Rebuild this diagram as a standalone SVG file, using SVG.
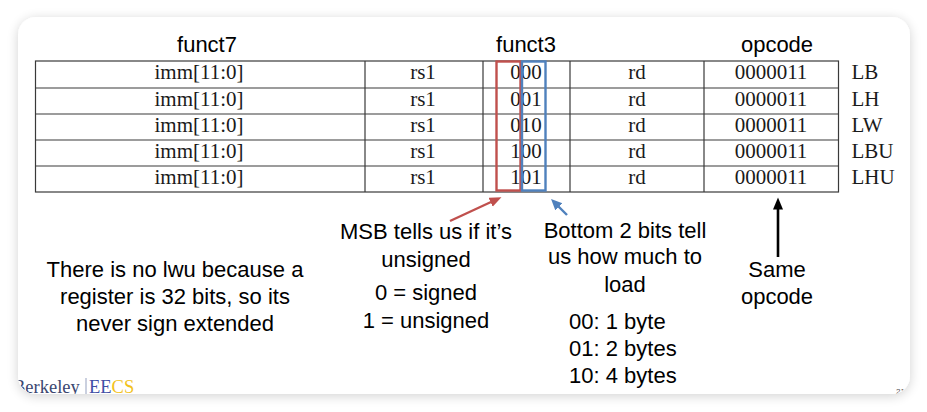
<svg xmlns="http://www.w3.org/2000/svg" width="927" height="412" viewBox="0 0 927 412">
<style>
.sans{font-family:"Liberation Sans",Arial,sans-serif;font-size:22px;fill:#000}
.serif{font-family:"Liberation Serif","Times New Roman",serif;font-size:21px;fill:#1a1a1a}
.mid{text-anchor:middle}
.grid{stroke:#3a3a3a;stroke-width:1.2;fill:none}
</style>
<defs>
<filter id="shadow" x="-5%" y="-8%" width="110%" height="116%">
<feGaussianBlur in="SourceAlpha" stdDeviation="6"/>
<feOffset dx="0" dy="2" result="b"/>
<feComponentTransfer><feFuncA type="linear" slope="0.18"/></feComponentTransfer>
<feMerge><feMergeNode/><feMergeNode in="SourceGraphic"/></feMerge>
</filter>
<clipPath id="cardclip"><rect x="18" y="17" width="892" height="377" rx="18"/></clipPath>
<marker id="headRed" markerUnits="userSpaceOnUse" markerWidth="13" markerHeight="11" refX="0.5" refY="5" orient="auto"><path d="M0,0 L12,5 L0,10 z" fill="#c0504d"/></marker>
<marker id="headBlue" markerUnits="userSpaceOnUse" markerWidth="13" markerHeight="11" refX="0.5" refY="5" orient="auto"><path d="M0,0 L11,5 L0,10 z" fill="#4f81bd"/></marker>
<marker id="headBlack" markerUnits="userSpaceOnUse" markerWidth="13" markerHeight="11" refX="0.5" refY="5" orient="auto"><path d="M0,0 L12,5 L0,10 z" fill="#000"/></marker>
</defs>
<rect width="927" height="412" fill="#ffffff"/>
<g id="card">
<rect x="18" y="17" width="892" height="377" rx="18" fill="#ffffff" filter="url(#shadow)"/>
</g>
<g id="headers">
<text class="sans mid" x="207" y="52">funct7</text>
<text class="sans mid" x="526" y="52">funct3</text>
<text class="sans mid" x="777" y="52">opcode</text>
</g>
<g id="table">
<rect class="grid" x="35.5" y="61" width="803" height="131"/>
<path class="grid" d="M35.5,88H838.5M35.5,114H838.5M35.5,140H838.5M35.5,166H838.5M365,61V192M483,61V192M570,61V192M704,61V192"/>
<g class="serif">
<text class="mid" x="199" y="79">imm[11:0]</text><text class="mid" x="423" y="79">rs1</text><text class="mid" x="526" y="79">000</text><text class="mid" x="637" y="79">rd</text><text class="mid" x="771" y="79">0000011</text><text x="851.5" y="79">LB</text>
<text class="mid" x="199" y="106">imm[11:0]</text><text class="mid" x="423" y="106">rs1</text><text class="mid" x="526" y="106">001</text><text class="mid" x="637" y="106">rd</text><text class="mid" x="771" y="106">0000011</text><text x="851.5" y="106">LH</text>
<text class="mid" x="199" y="132">imm[11:0]</text><text class="mid" x="423" y="132">rs1</text><text class="mid" x="526" y="132">010</text><text class="mid" x="637" y="132">rd</text><text class="mid" x="771" y="132">0000011</text><text x="851.5" y="132">LW</text>
<text class="mid" x="199" y="158">imm[11:0]</text><text class="mid" x="423" y="158">rs1</text><text class="mid" x="526" y="158">100</text><text class="mid" x="637" y="158">rd</text><text class="mid" x="771" y="158">0000011</text><text x="851.5" y="158">LBU</text>
<text class="mid" x="199" y="184">imm[11:0]</text><text class="mid" x="423" y="184">rs1</text><text class="mid" x="526" y="184">101</text><text class="mid" x="637" y="184">rd</text><text class="mid" x="771" y="184">0000011</text><text x="851.5" y="184">LHU</text>
</g>
</g>
<g id="box-msb"><rect x="496.5" y="61.5" width="24" height="129" fill="none" stroke="#c0504d" stroke-width="2.4"/></g>
<g id="box-low"><rect x="522" y="61.5" width="23.5" height="129" fill="none" stroke="#4f81bd" stroke-width="2.4"/></g>
<g id="connectors">
<line x1="450" y1="221" x2="491" y2="202" stroke="#c0504d" stroke-width="2.4" marker-end="url(#headRed)"/>
<line x1="567" y1="215" x2="558.5" y2="206.5" stroke="#4f81bd" stroke-width="2.4" marker-end="url(#headBlue)"/>
<line x1="778" y1="257" x2="778" y2="209" stroke="#000" stroke-width="2.6" marker-end="url(#headBlack)"/>
</g>
<g id="note-msb" class="sans">
<text class="mid" x="426" y="239">MSB tells us if it’s</text>
<text class="mid" x="426" y="267">unsigned</text>
<text class="mid" x="426" y="300">0 = signed</text>
<text class="mid" x="426" y="327.5">1 = unsigned</text>
</g>
<g id="note-bits" class="sans">
<text class="mid" x="625" y="237.5">Bottom 2 bits tell</text>
<text class="mid" x="625" y="264">us how much to</text>
<text class="mid" x="625" y="291.5">load</text>
<text x="569" y="328.5">00: 1 byte</text>
<text x="569" y="355.5">01: 2 bytes</text>
<text x="569" y="383">10: 4 bytes</text>
</g>
<g id="note-opcode" class="sans">
<text class="mid" x="777" y="277">Same</text>
<text class="mid" x="777" y="304">opcode</text>
</g>
<g id="note-lwu" class="sans">
<text class="mid" x="175" y="277">There is no lwu because a</text>
<text class="mid" x="175" y="304">register is 32 bits, so its</text>
<text class="mid" x="175" y="331">never sign extended</text>
</g>
<g id="logo" clip-path="url(#cardclip)">
<text x="13" y="393" style="font-family:'Liberation Serif','Times New Roman',serif;font-size:18.5px"><tspan fill="#3b4770">Berkeley</tspan></text>
<line x1="86" y1="378" x2="86" y2="394" stroke="#8a96b8" stroke-width="0.9"/>
<text x="89" y="393" style="font-family:'Liberation Serif','Times New Roman',serif;font-size:18.5px"><tspan fill="#3f4fa6">EE</tspan><tspan fill="#f2c21b">CS</tspan></text>
<text x="896" y="394" style="font-family:'Liberation Sans',Arial,sans-serif;font-size:8px" fill="#555">21</text>
</g>
</svg>
